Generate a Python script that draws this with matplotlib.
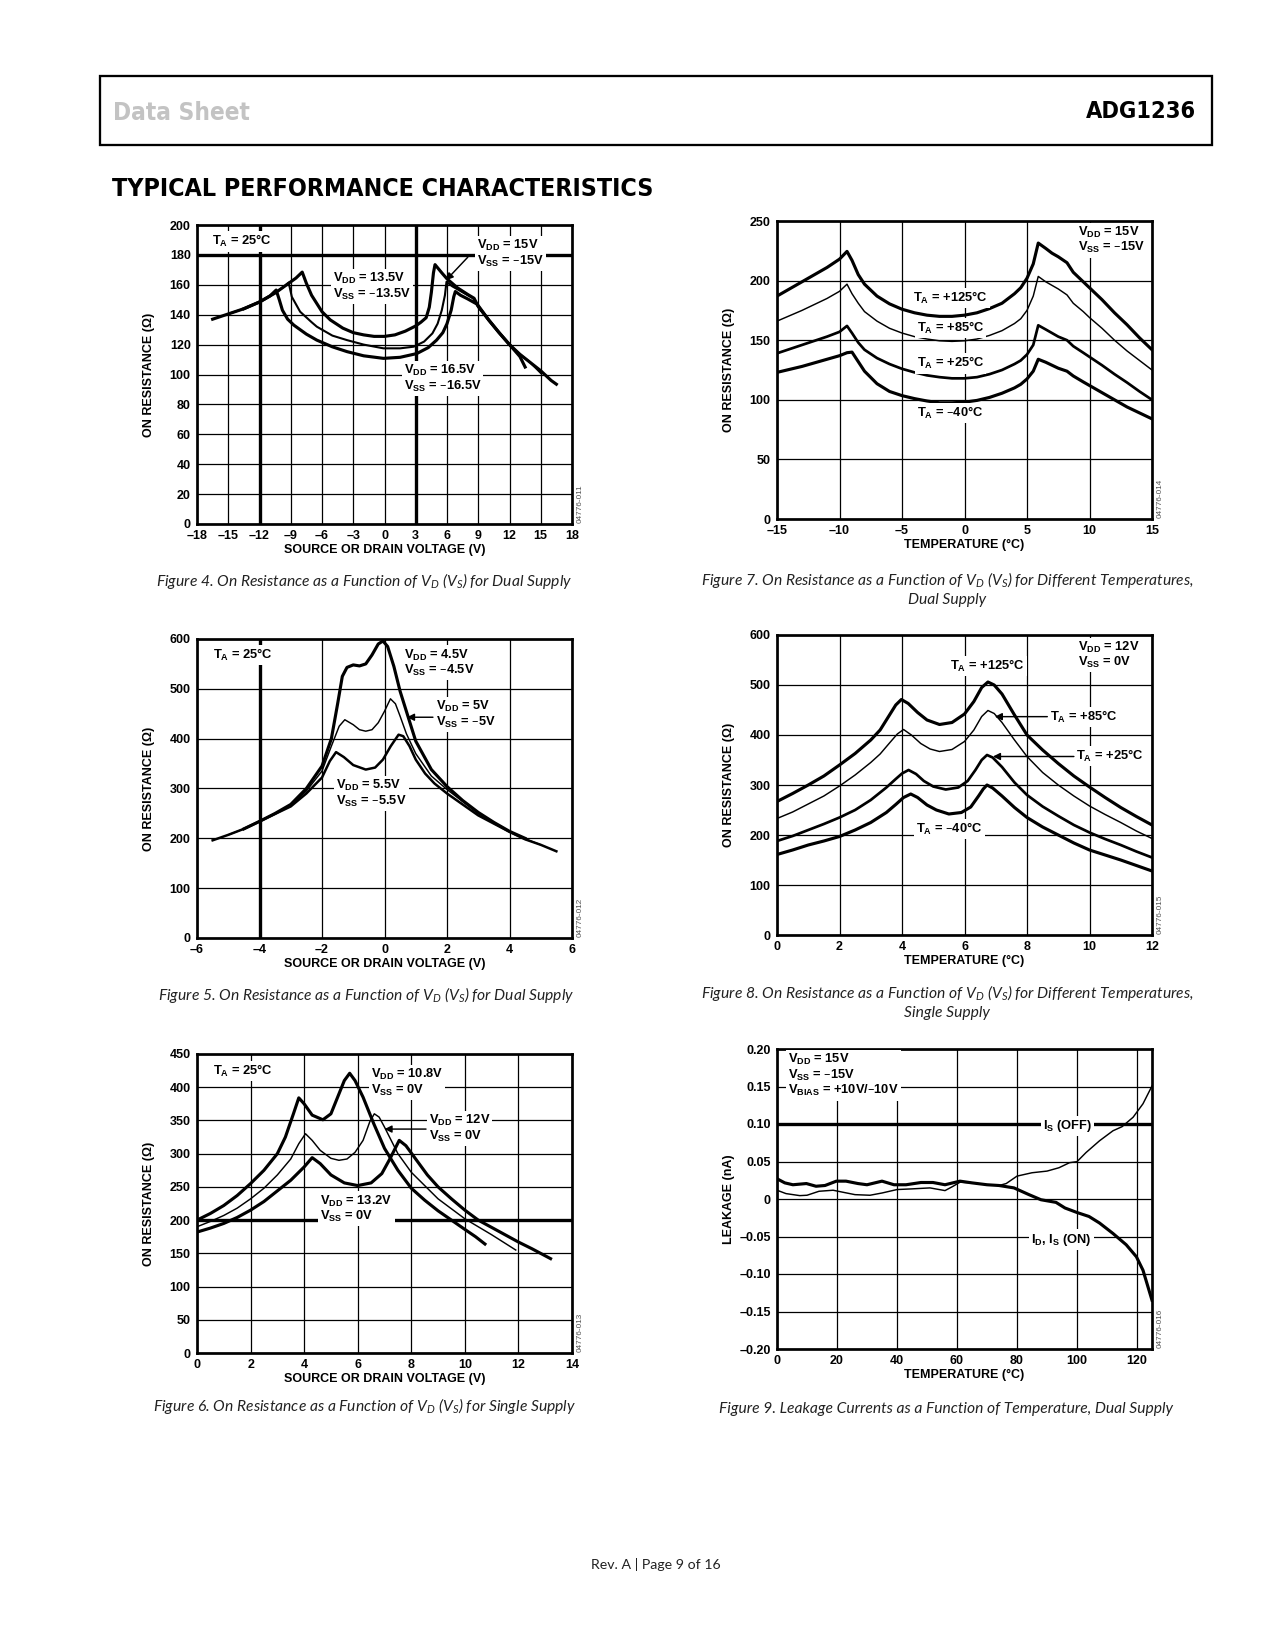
import matplotlib
matplotlib.use('Agg')
import matplotlib.pyplot as plt
import matplotlib.font_manager as fm
from matplotlib.patches import Rectangle

plt.rcParams['mathtext.default'] = 'regular'
plt.rcParams['font.family'] = ['Liberation Sans', 'DejaVu Sans']

BOLD = ['Liberation Sans', 'DejaVu Sans']
CAP = ['Lato', 'Open Sans', 'DejaVu Sans']

# ---------------- data ----------------
# Figure 4
f4_xticks = [-18, -15, -12, -9, -6, -3, 0, 3, 6, 9, 12, 15, 18]
f4_xticklabels = ['–18', '–15', '–12', '–9', '–6', '–3', '0', '3', '6', '9', '12', '15', '18']
f4_yticks = [0, 20, 40, 60, 80, 100, 120, 140, 160, 180, 200]
f4_yticklabels = ['0', '20', '40', '60', '80', '100', '120', '140', '160', '180', '200']
f4_v135_x = [-13.5, -12, -10.5, -9.5, -8.5, -7.9, -7.5, -7.0, -6.0, -5.2, -4.0, -3.0, -2.0, -1.0, 0.0, 1.0, 2.0, 3.0,
             3.5, 4.0, 4.3, 4.5, 4.7, 4.85, 5.5, 6.0, 7.0, 8.0, 8.6, 9.0, 10.0, 11.0, 12.0, 13.0, 13.5]
f4_v135_y = [144, 148.5, 154.5, 159.5, 164.5, 168.5, 161, 153, 142, 136.5, 131, 128, 126.5, 125.5, 125.5, 126.5, 129,
             132.5, 135, 138, 145, 155, 168, 173.5, 168, 164, 158, 153.5, 151, 145.5, 136.5, 128, 120, 112, 105]
f4_v15_x = [-15, -13.5, -12, -10.5, -9.6, -9.2, -8.9, -8.1, -7.0, -6.5, -5.0, -3.6, -2.0, -0.1, 1.5, 2.8, 3.8,
            4.6, 5.1, 5.5, 5.8, 5.95, 6.5, 7.5, 8.5, 9.0, 10.0, 11.0, 12.0, 13.0, 14.0, 15.0]
f4_v15_y = [140.5, 144, 148.5, 154.5, 159, 161.5, 152, 142, 135, 132, 126, 123, 120, 117.5, 117.5, 118.6, 122,
            127.5, 134, 143, 153, 162, 159, 155, 151, 145, 136.5, 128, 120, 113.5, 108, 101]
f4_v165_x = [-16.5, -15, -13.5, -12, -11, -10.4, -10.1, -9.8, -9.3, -8.7, -7.5, -6.5, -5.0, -3.6, -2.0, -0.1, 1.5,
             3.1, 4.2, 5.0, 5.6, 6.0, 6.4, 6.65, 6.8, 7.3, 8.0, 8.9, 10.0, 11.0, 12.0, 13.0, 14.0, 15.0, 16.0, 16.5]
f4_v165_y = [137, 140.5, 144, 148.5, 152.5, 156.5, 150, 143, 137, 133, 127, 123, 118.5, 115.3, 112.5, 110.8, 111.5,
             114, 118, 123, 128, 134, 143, 152, 155.5, 153, 150.5, 147, 136.5, 128, 120, 113.5, 108, 102.5, 96, 93.5]

# Figure 5
f5_xticks = [-6, -4, -2, 0, 2, 4, 6]
f5_xticklabels = ['–6', '–4', '–2', '0', '2', '4', '6']
f5_yticks = [0, 100, 200, 300, 400, 500, 600]
f5_yticklabels = ['0', '100', '200', '300', '400', '500', '600']
f5_v45_x = [-4.5, -4, -3.5, -3, -2.5, -2, -1.7, -1.5, -1.35, -1.2, -1.0, -0.8, -0.6, -0.4, -0.2, -0.05, 0.1, 0.3,
            0.5, 0.7, 1.0, 1.5, 2.0, 2.5, 3.0, 3.5, 4.0, 4.5]
f5_v45_y = [219, 234, 250, 268, 300, 345, 400, 470, 525, 543, 548, 546, 550, 568, 590, 596, 585, 545, 495, 455,
            395, 338, 304, 276, 252, 232, 214, 200]
f5_v5_x = [-5, -4.5, -4, -3.5, -3, -2.5, -2, -1.7, -1.45, -1.27, -1.0, -0.8, -0.6, -0.4, -0.2, 0.0, 0.19, 0.35,
           0.5, 0.7, 1.0, 1.5, 2.0, 3.0, 4.0, 4.5, 5.0]
f5_v5_y = [207, 219, 234, 250, 266, 295, 335, 385, 425, 438, 428, 418, 415, 418, 432, 455, 480, 470, 445, 410,
           370, 325, 298, 250, 214, 199, 187]
f5_v55_x = [-5.5, -5, -4.5, -4, -3.5, -3, -2.5, -2, -1.75, -1.55, -1.3, -1.0, -0.6, -0.3, -0.05, 0.2, 0.45, 0.6,
            0.8, 1.0, 1.3, 1.6, 2.0, 3.0, 4.0, 4.5, 5.0, 5.5]
f5_v55_y = [196, 207, 219, 234, 249, 264, 290, 322, 355, 373, 363, 347, 338, 342, 358, 385, 408, 405, 385, 358,
            330, 310, 290, 246, 213, 198, 187, 174]

# Figure 6
f6_xticks = [0, 2, 4, 6, 8, 10, 12, 14]
f6_xticklabels = ['0', '2', '4', '6', '8', '10', '12', '14']
f6_yticks = [0, 50, 100, 150, 200, 250, 300, 350, 400, 450]
f6_yticklabels = ['0', '50', '100', '150', '200', '250', '300', '350', '400', '450']
f6_v108_x = [0, 0.5, 1, 1.5, 2, 2.5, 3, 3.3, 3.6, 3.8, 4.0, 4.3, 4.7, 5.0, 5.3, 5.5, 5.7, 5.9, 6.2, 6.6, 7.0, 7.5,
             8, 8.5, 9, 9.5, 10, 10.4, 10.75]
f6_v108_y = [200, 210, 222, 237, 255, 275, 300, 325, 360, 384, 375, 358, 351, 360, 390, 410, 421, 410, 385, 345,
             308, 275, 248, 230, 214, 200, 186, 175, 164]
f6_v12_x = [0, 0.5, 1, 1.5, 2, 2.5, 3, 3.5, 3.8, 4.05, 4.3, 4.6, 5.0, 5.3, 5.6, 5.9, 6.2, 6.45, 6.62, 6.8, 7.0,
            7.5, 8, 8.5, 9, 10, 11, 11.9]
f6_v12_y = [190, 198, 207, 218, 232, 248, 268, 292, 315, 330, 320, 305, 293, 290, 292, 302, 320, 348, 360, 355,
            340, 300, 272, 252, 232, 202, 178, 155]
f6_v132_x = [0, 0.5, 1, 1.5, 2, 2.5, 3, 3.5, 4.0, 4.3, 4.6, 5.0, 5.5, 6.0, 6.5, 6.9, 7.2, 7.55, 7.8, 8.2, 8.6, 9,
             9.5, 10, 10.5, 11, 11.5, 12, 12.5, 13.2]
f6_v132_y = [182, 188, 195, 204, 215, 228, 244, 260, 280, 294, 285, 268, 256, 252, 256, 270, 292, 320, 312, 290,
             268, 250, 232, 215, 200, 189, 178, 167, 157, 142]

# Figure 7
f7_xticks = [-15, -10, -5, 0, 5, 10, 15]
f7_xticklabels = ['–15', '–10', '–5', '0', '5', '10', '15']
f7_yticks = [0, 50, 100, 150, 200, 250]
f7_yticklabels = ['0', '50', '100', '150', '200', '250']
f7_x = [-15, -14, -13, -12, -11, -10, -9.4, -9.0, -8.5, -8, -7, -6, -5, -4, -3, -2, -1, 0, 1, 2, 3, 4, 4.5, 5,
        5.5, 5.9, 6.5, 7, 7.5, 8.2, 8.7, 9.5, 10, 11, 12, 13, 14, 15]
f7_t125 = [187, 193, 199, 205, 211, 218, 224.5, 217, 205, 197, 187, 180.5, 176, 173, 171, 170, 170, 171, 173,
           176.5, 181, 189, 194, 202, 214, 231.5, 227, 223, 220, 215, 207, 199, 194, 184, 173, 163, 152, 142]
f7_t85 = [166, 170.5, 175, 180, 185, 191, 197, 189, 181, 174, 166, 160, 156, 153, 151, 149.5, 149, 149.5, 151,
          154, 158, 164, 168, 175, 187, 203.5, 199, 196, 193, 188, 181, 174, 169, 160, 150, 141, 133, 125]
f7_t25 = [139, 142.5, 146, 149.5, 153, 157, 162, 156, 148, 142, 135, 130, 126, 123, 120.5, 119, 118, 118, 119,
          121.5, 125, 130, 133, 138, 146, 162.5, 159, 156, 153, 150, 145, 139.5, 136, 129, 121.5, 114.5, 107, 100]
f7_tm40 = [123, 125.5, 128, 131, 134, 137, 139.5, 140, 132, 124, 113.5, 107, 103.5, 101, 99, 97.5, 97.5, 98,
           99.5, 102, 105.5, 110, 113, 117.5, 124, 134, 131.5, 129, 126.5, 124, 120, 115, 112, 106, 100, 94, 89, 84]

# Figure 8
f8_xticks = [0, 2, 4, 6, 8, 10, 12]
f8_xticklabels = ['0', '2', '4', '6', '8', '10', '12']
f8_yticks = [0, 100, 200, 300, 400, 500, 600]
f8_yticklabels = ['0', '100', '200', '300', '400', '500', '600']
f8_t125_x = [0, 0.5, 1, 1.5, 2, 2.5, 3, 3.3, 3.6, 3.8, 3.98, 4.2, 4.5, 4.8, 5.2, 5.6, 6.0, 6.3, 6.55, 6.75, 6.95,
             7.2, 7.6, 8, 8.5, 9, 9.5, 10, 10.5, 11, 11.5, 12]
f8_t125_y = [267, 283, 300, 318, 340, 363, 390, 410, 440, 460, 471, 463, 445, 430, 421, 425, 442, 467, 495, 506,
             500, 482, 440, 400, 370, 343, 318, 296, 275, 255, 237, 220]
f8_t85_x = [0, 0.5, 1, 1.5, 2, 2.5, 3, 3.3, 3.6, 3.85, 4.05, 4.3, 4.6, 4.9, 5.2, 5.6, 6.0, 6.3, 6.55, 6.75, 6.95,
            7.2, 7.6, 8, 8.5, 9, 9.5, 10, 10.5, 11, 11.5, 12]
f8_t85_y = [233, 246, 262, 278, 298, 320, 345, 362, 384, 402, 411, 400, 383, 372, 367, 371, 387, 410, 437, 449,
            443, 425, 390, 357, 325, 300, 278, 258, 241, 225, 208, 193]
f8_t25_x = [0, 0.5, 1, 1.5, 2, 2.5, 3, 3.5, 3.8, 4.0, 4.21, 4.45, 4.7, 5.0, 5.4, 5.8, 6.1, 6.35, 6.55, 6.72, 6.9,
            7.2, 7.6, 8, 8.5, 9, 9.5, 10, 10.5, 11, 11.5, 12]
f8_t25_y = [188, 198, 210, 222, 235, 250, 270, 295, 312, 323, 330, 322, 308, 297, 291, 295, 308, 330, 350, 360,
            355, 336, 305, 280, 257, 238, 220, 205, 192, 180, 167, 155]
f8_tm40_x = [0, 0.5, 1, 1.5, 2, 2.5, 3, 3.5, 3.8, 4.05, 4.28, 4.5, 4.8, 5.1, 5.5, 5.9, 6.2, 6.45, 6.6, 6.72, 6.9,
             7.2, 7.6, 8, 8.5, 9, 9.5, 10, 10.5, 11, 11.5, 12]
f8_tm40_y = [161, 170, 180, 188, 197, 210, 225, 245, 261, 275, 282, 275, 260, 250, 242, 245, 256, 278, 292, 300,
             294, 278, 255, 235, 216, 200, 184, 170, 160, 150, 139, 128]

# Figure 9
f9_xticks = [0, 20, 40, 60, 80, 100, 120]
f9_xticklabels = ['0', '20', '40', '60', '80', '100', '120']
f9_yticks = [-0.20, -0.15, -0.10, -0.05, 0, 0.05, 0.10, 0.15, 0.20]
f9_yticklabels = ['–0.20', '–0.15', '–0.10', '–0.05', '0', '0.05', '0.10', '0.15', '0.20']
f9_on_x = [0, 2.6, 5.3, 9.8, 13, 16, 19.8, 23, 27, 30, 35, 39, 43, 48, 52, 56, 61, 65, 70, 74, 79, 84, 88, 93,
           96, 100, 104, 107.5, 112, 116.4, 119.8, 122, 125]
f9_on_y = [0.027, 0.0215, 0.019, 0.0206, 0.017, 0.018, 0.0238, 0.0238, 0.0206, 0.019, 0.0238, 0.019, 0.019,
           0.022, 0.022, 0.019, 0.0238, 0.0215, 0.019, 0.018, 0.0148, 0.0058, -0.001, -0.0045, -0.012, -0.018,
           -0.0233, -0.032, -0.046, -0.061, -0.077, -0.095, -0.135]
f9_off_x = [0, 3, 7.6, 10, 14, 18.7, 22, 26, 31, 35, 40, 45, 51, 56, 58.7, 61, 65, 70, 74, 76.4, 80, 85, 90, 94,
            97.5, 100, 103, 107.5, 112, 115, 118.7, 122, 125]
f9_off_y = [0.0117, 0.0072, 0.0045, 0.005, 0.0103, 0.0117, 0.009, 0.0058, 0.005, 0.008, 0.0126, 0.0135, 0.0148,
            0.0112, 0.017, 0.0224, 0.0215, 0.019, 0.018, 0.0206, 0.0305, 0.035, 0.0372, 0.0417, 0.0484, 0.0498,
            0.0619, 0.0776, 0.091, 0.0964, 0.109, 0.127, 0.1507]

# ---------------- figure ----------------
W, H = 1275, 1650
fig = plt.figure(figsize=(W / 150, H / 150), dpi=150)
fig.patch.set_facecolor('white')


def fx(x):
    return x / W


def fy(y):
    return 1 - y / H


def make_ax(l, t, r, b):
    return fig.add_axes([l / W, 1 - b / H, (r - l) / W, (b - t) / H])


def _is_bold(w):
    if isinstance(w, str):
        return w in ('bold', 'heavy', 'extra bold', 'black', 'demibold', 'semibold')
    return w >= 600


def condensed_bold():
    pref = ['Liberation Sans Narrow', 'Noto Sans', 'DejaVu Sans', 'Roboto', 'Open Sans', 'Inter', 'Lato']
    found = []
    for f in fm.fontManager.ttflist:
        key = (f.fname + ' ' + f.name + ' ' + str(f.stretch)).lower()
        if ('condensed' in key or 'narrow' in key) and _is_bold(f.weight) and f.style == 'normal' \
                and 'extra' not in key.split('condensed')[0][-6:] and 'ultra' not in key:
            found.append(f)
    for p in pref:
        for f in found:
            if f.name.startswith(p):
                return fm.FontProperties(fname=f.fname)
    if found:
        return fm.FontProperties(fname=found[0].fname)
    return fm.FontProperties(family=BOLD, weight='bold')


CONDFP = condensed_bold()
renderer = fig.canvas.get_renderer()


def fit_width(t, target_px, max_size):
    w = t.get_window_extent(renderer=renderer).width
    if w > 0:
        t.set_fontsize(min(max_size, t.get_fontsize() * target_px / w))


THICK = 1.5
THIN = 0.7
GRID = 0.6
TXT = dict(fontsize=6.2, fontweight='bold', family=BOLD, linespacing=1.05,
           bbox=dict(facecolor='white', edgecolor='none', pad=1.0), zorder=4)


def style(ax, xlim, ylim, xt, xtl, yt, ytl, xlabel, ylabel, code, thick_x=(), thick_y=()):
    ax.set_xlim(*xlim)
    ax.set_ylim(*ylim)
    ax.set_xticks(xt)
    ax.set_xticklabels(xtl)
    ax.set_yticks(yt)
    ax.set_yticklabels(ytl)
    ax.tick_params(length=0, pad=3, labelsize=6)
    for lab in ax.get_xticklabels() + ax.get_yticklabels():
        lab.set_fontweight('bold')
        lab.set_family(BOLD)
    ax.grid(True, color='black', lw=GRID)
    ax.set_axisbelow(True)
    for v in thick_x:
        ax.axvline(v, color='black', lw=1.6, zorder=1)
    for v in thick_y:
        ax.axhline(v, color='black', lw=1.6, zorder=1)
    for s in ax.spines.values():
        s.set_linewidth(1.3)
    ax.set_xlabel(xlabel, fontsize=6, fontweight='bold', family=BOLD)
    ax.set_ylabel(ylabel, fontsize=6, fontweight='bold', family=BOLD)
    ax.xaxis.set_label_coords(0.5, -0.068)
    ax.yaxis.set_label_coords(-0.111, 0.5)
    ax.text(1.021, 0.003, code, transform=ax.transAxes, rotation=90, rotation_mode='anchor',
            ha='left', va='center', fontsize=3.9, color='#555555', family=BOLD)


def arrow(ax, tip, tail):
    ax.annotate('', xy=tip, xytext=tail,
                arrowprops=dict(arrowstyle='-|>', color='black', lw=0.7, mutation_scale=7,
                                shrinkA=0, shrinkB=0), zorder=5)


# ----- Header -----
fig.patches.append(Rectangle((fx(100), fy(145)), (1212 - 100) / W, (145 - 76) / H,
                             transform=fig.transFigure, fill=False, lw=1.1, edgecolor='black'))
t_ds = fig.text(fx(113), fy(120), 'Data Sheet', fontproperties=CONDFP, fontsize=15.5,
                color='#c3c3c3', ha='left', va='baseline')
fit_width(t_ds, 137, 17)
t_adg = fig.text(fx(1196), fy(118.5), 'ADG1236', fontproperties=CONDFP, fontsize=14.5,
                 color='black', ha='right', va='baseline')
fit_width(t_adg, 110, 15.5)
t_title = fig.text(fx(112), fy(195.5), 'TYPICAL PERFORMANCE CHARACTERISTICS', fontproperties=CONDFP,
                   fontsize=14, color='black', ha='left', va='baseline')
fit_width(t_title, 541, 17)
fig.text(fx(656), fy(1569), 'Rev. A | Page 9 of 16', family=CAP, fontsize=6.8, color='#222222',
         ha='center', va='baseline')

CAPS = dict(family=CAP, style='italic', fontsize=7.5, color='#222222', ha='center', va='baseline')

# ----- Figure 4 -----
ax4 = make_ax(197, 225, 572, 524)
style(ax4, (-18, 18), (0, 200), f4_xticks, f4_xticklabels, f4_yticks, f4_yticklabels,
      'SOURCE OR DRAIN VOLTAGE (V)', 'ON RESISTANCE (Ω)', '04776-011', thick_x=(-12, 3), thick_y=(180,))
ax4.plot(f4_v135_x, f4_v135_y, color='black', lw=THICK, zorder=3)
ax4.plot(f4_v15_x, f4_v15_y, color='black', lw=1.0, zorder=3)
ax4.plot(f4_v165_x, f4_v165_y, color='black', lw=THICK, zorder=3)
ax4.text(-16.6, 189, 'T$_A$ = 25°C', ha='left', va='center', **TXT)
ax4.text(-4.9, 159, 'V$_{DD}$ = 13.5V\nV$_{SS}$ = –13.5V', ha='left', va='center', **TXT)
ax4.text(8.9, 181, 'V$_{DD}$ = 15V\nV$_{SS}$ = –15V', ha='left', va='center', **TXT)
ax4.text(1.84, 97.5, 'V$_{DD}$ = 16.5V\nV$_{SS}$ = –16.5V', ha='left', va='center', **TXT)
arrow(ax4, (5.9, 163), (8.0, 178.5))
fig.text(fx(364), fy(586), 'Figure 4. On Resistance as a Function of V$_D$ (V$_S$) for Dual Supply', **CAPS)

# ----- Figure 5 -----
ax5 = make_ax(197, 639, 572, 938)
style(ax5, (-6, 6), (0, 600), f5_xticks, f5_xticklabels, f5_yticks, f5_yticklabels,
      'SOURCE OR DRAIN VOLTAGE (V)', 'ON RESISTANCE (Ω)', '04776-012', thick_x=(-4,))
ax5.plot(f5_v45_x, f5_v45_y, color='black', lw=THICK, zorder=3)
ax5.plot(f5_v5_x, f5_v5_y, color='black', lw=THIN, zorder=3)
ax5.plot(f5_v55_x, f5_v55_y, color='black', lw=1.2, zorder=3)
ax5.text(-5.5, 568, 'T$_A$ = 25°C', ha='left', va='center', **TXT)
ax5.text(0.63, 552, 'V$_{DD}$ = 4.5V\nV$_{SS}$ = –4.5V', ha='left', va='center', **TXT)
ax5.text(1.66, 448, 'V$_{DD}$ = 5V\nV$_{SS}$ = –5V', ha='left', va='center', **TXT)
ax5.text(-1.55, 290, 'V$_{DD}$ = 5.5V\nV$_{SS}$ = –5.5V', ha='left', va='center', **TXT)
arrow(ax5, (0.72, 443), (1.55, 443))
fig.text(fx(366), fy(1000), 'Figure 5. On Resistance as a Function of V$_D$ (V$_S$) for Dual Supply', **CAPS)

# ----- Figure 6 -----
ax6 = make_ax(197, 1054, 572, 1353)
style(ax6, (0, 14), (0, 450), f6_xticks, f6_xticklabels, f6_yticks, f6_yticklabels,
      'SOURCE OR DRAIN VOLTAGE (V)', 'ON RESISTANCE (Ω)', '04776-013', thick_y=(200,))
ax6.plot(f6_v108_x, f6_v108_y, color='black', lw=THICK, zorder=3)
ax6.plot(f6_v12_x, f6_v12_y, color='black', lw=THIN, zorder=3)
ax6.plot(f6_v132_x, f6_v132_y, color='black', lw=THICK, zorder=3)
ax6.text(0.6, 424, 'T$_A$ = 25°C', ha='left', va='center', **TXT)
ax6.text(6.5, 407, 'V$_{DD}$ = 10.8V\nV$_{SS}$ = 0V', ha='left', va='center', **TXT)
ax6.text(8.65, 338, 'V$_{DD}$ = 12V\nV$_{SS}$ = 0V', ha='left', va='center', **TXT)
ax6.text(4.6, 217, 'V$_{DD}$ = 13.2V\nV$_{SS}$ = 0V', ha='left', va='center', **TXT)
arrow(ax6, (7.0, 337), (8.55, 337))
fig.text(fx(365), fy(1411), 'Figure 6. On Resistance as a Function of V$_D$ (V$_S$) for Single Supply', **CAPS)

# ----- Figure 7 -----
ax7 = make_ax(777, 221, 1152, 519)
style(ax7, (-15, 15), (0, 250), f7_xticks, f7_xticklabels, f7_yticks, f7_yticklabels,
      'TEMPERATURE (°C)', 'ON RESISTANCE (Ω)', '04776-014')
ax7.plot(f7_x, f7_t125, color='black', lw=THICK, zorder=3)
ax7.plot(f7_x, f7_t85, color='black', lw=THIN, zorder=3)
ax7.plot(f7_x, f7_t25, color='black', lw=1.3, zorder=3)
ax7.plot(f7_x, f7_tm40, color='black', lw=THICK, zorder=3)
ax7.text(9.08, 234, 'V$_{DD}$ = 15V\nV$_{SS}$ = –15V', ha='left', va='center', **TXT)
ax7.text(-4.1, 185.5, 'T$_A$ = +125°C', ha='left', va='center', **TXT)
ax7.text(-3.8, 160, 'T$_A$ = +85°C', ha='left', va='center', **TXT)
ax7.text(-3.8, 130.5, 'T$_A$ = +25°C', ha='left', va='center', **TXT)
ax7.text(-3.8, 88.7, 'T$_A$ = –40°C', ha='left', va='center', **TXT)
fig.text(fx(947), fy(585), 'Figure 7. On Resistance as a Function of V$_D$ (V$_S$) for Different Temperatures,',
         **CAPS)
fig.text(fx(947), fy(604), 'Dual Supply', **CAPS)

# ----- Figure 8 -----
ax8 = make_ax(777, 635, 1152, 935)
style(ax8, (0, 12), (0, 600), f8_xticks, f8_xticklabels, f8_yticks, f8_yticklabels,
      'TEMPERATURE (°C)', 'ON RESISTANCE (Ω)', '04776-015')
ax8.plot(f8_t125_x, f8_t125_y, color='black', lw=THICK, zorder=3)
ax8.plot(f8_t85_x, f8_t85_y, color='black', lw=THIN, zorder=3)
ax8.plot(f8_t25_x, f8_t25_y, color='black', lw=1.3, zorder=3)
ax8.plot(f8_tm40_x, f8_tm40_y, color='black', lw=THICK, zorder=3)
ax8.text(9.63, 560, 'V$_{DD}$ = 12V\nV$_{SS}$ = 0V', ha='left', va='center', **TXT)
ax8.text(5.55, 538.7, 'T$_A$ = +125°C', ha='left', va='center', **TXT)
ax8.text(8.73, 436.7, 'T$_A$ = +85°C', ha='left', va='center', **TXT)
ax8.text(9.58, 358, 'T$_A$ = +25°C', ha='left', va='center', **TXT)
ax8.text(4.46, 211.3, 'T$_A$ = –40°C', ha='left', va='center', **TXT)
arrow(ax8, (6.97, 436.7), (8.65, 436.7))
arrow(ax8, (6.91, 357), (9.5, 357))
fig.text(fx(947), fy(998), 'Figure 8. On Resistance as a Function of V$_D$ (V$_S$) for Different Temperatures,',
         **CAPS)
fig.text(fx(947), fy(1017), 'Single Supply', **CAPS)

# ----- Figure 9 -----
ax9 = make_ax(777, 1049, 1152, 1349)
style(ax9, (0, 125), (-0.20, 0.20), f9_xticks, f9_xticklabels, f9_yticks, f9_yticklabels,
      'TEMPERATURE (°C)', 'LEAKAGE (nA)', '04776-016', thick_y=(0.10,))
ax9.plot(f9_off_x, f9_off_y, color='black', lw=THIN, zorder=3)
ax9.plot(f9_on_x, f9_on_y, color='black', lw=THICK, zorder=3)
ax9.text(3.7, 0.165, 'V$_{DD}$ = 15V\nV$_{SS}$ = –15V\nV$_{BIAS}$ = +10V/–10V', ha='left', va='center', **TXT)
ax9.text(88.7, 0.0975, 'I$_S$ (OFF)', ha='left', va='center', **TXT)
ax9.text(84.8, -0.054, 'I$_D$, I$_S$ (ON)', ha='left', va='center', **TXT)
fig.text(fx(946), fy(1413), 'Figure 9. Leakage Currents as a Function of Temperature, Dual Supply', **CAPS)

fig.savefig('out.png', dpi=150, facecolor='white')
